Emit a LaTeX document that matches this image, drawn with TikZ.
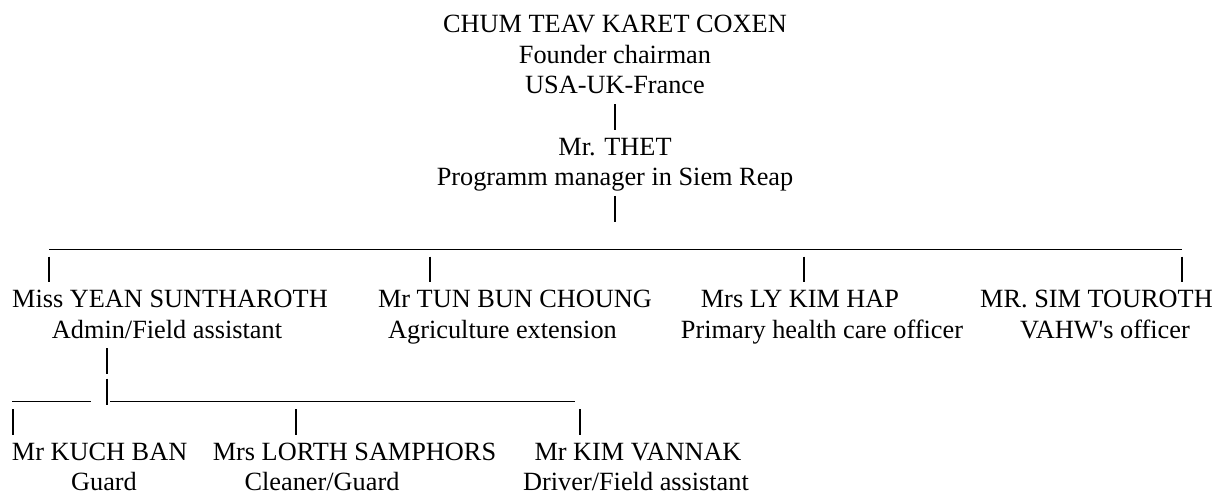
\documentclass[tikz,border=0pt]{standalone}
\usepackage{fontspec}
\setmainfont{Liberation Serif}[Ligatures=TeXOff]

\begin{document}
\begin{tikzpicture}[
    x=1pt, y=-1pt,
    font=\fontsize{26.3}{30.5}\selectfont,
    t/.style={
        inner sep=0pt, anchor=base,
        text height=20.5pt, text depth=5.7pt
    },
    bar/.style={
        line width=1.2pt, color=black
    },
    v/.style={
        bar, shorten >=4.5pt
    },
    h/.style={
        line width=1.2pt, color=black
    }
]

    \useasboundingbox (0, 0) rectangle (1224, 495);

    \node [t] (chair)     at ( 615  ,  33  ) {CHUM TEAV KARET COXEN};
    \node [t] (chairrole) at ( 615  ,  63.5) {Founder chairman};
    \node [t] (chairloc)  at ( 615  ,  94  ) {USA-UK-France};
    \node [t] (thet)      at ( 615  , 155  ) {Mr. THET};
    \node [t] (thetrole)  at ( 615  , 185.5) {Programm manager in Siem Reap};

    \node [t] (yean)      at ( 170  , 307.5) {Miss YEAN SUNTHAROTH};
    \node [t] (yeanrole)  at ( 167  , 338  ) {Admin/Field assistant};
    \node [t] (tun)       at ( 515  , 307.5) {Mr TUN BUN CHOUNG};
    \node [t] (tunrole)   at ( 502.5, 338  ) {Agriculture extension};
    \node [t] (ly)        at ( 800  , 307.5) {Mrs LY KIM HAP};
    \node [t] (lyrole)    at ( 822  , 338  ) {Primary health care officer};
    \node [t] (sim)       at (1096.5, 307.5) {MR. SIM TOUROTH};
    \node [t] (simrole)   at (1105  , 338  ) {VAHW's officer};

    \node [t] (kuch)      at (  99.6, 460  ) {Mr KUCH BAN};
    \node [t] (kuchrole)  at ( 104  , 490.5) {Guard};
    \node [t] (lorth)     at ( 354.5, 460  ) {Mrs LORTH SAMPHORS};
    \node [t] (lorthrole) at ( 322  , 490.5) {Cleaner/Guard};
    \node [t] (kim)       at ( 638  , 460  ) {Mr KIM VANNAK};
    \node [t] (kimrole)   at ( 636  , 490.5) {Driver/Field assistant};

    % top line
    \draw (chairloc) -- (thet) [v,shorten <=4.5pt];
    \coordinate (hub) at (615, 221.7);
    \draw (thetrole) -- (hub) [bar,shorten <=4.5pt];

    \coordinate (h1) at (  49, 249.1);
    \coordinate (h2) at (1182, 249.1);
    \draw (h1) -- (h2) [h];

    \coordinate (b1) at (  49, 256.5);
    \coordinate (b2) at ( 430, 256.5);
    \coordinate (b3) at ( 804, 256.5);
    \coordinate (b4) at (1182, 256.5);
    \foreach \n/\p in {1/yean,2/tun,3/ly,4/sim}
        \draw (b\n) -- (b\n |- \p.north) [v];

    % admin branch
    \coordinate (k1) at (107, 374.2);
    \coordinate (k2) at (107, 378.5);
    \coordinate (k3) at (107, 404.7);
    \draw (yeanrole.south -| k1) -- (k1) [bar,shorten <=4.5pt];
    \draw (k2) -- (k3) [bar];

    \coordinate (g1) at ( 12, 401.6);
    \coordinate (g2) at ( 91, 401.6);
    \coordinate (g3) at (110, 401.6);
    \coordinate (g4) at (575, 401.6);
    \draw (g1) -- (g2) [h];
    \draw (g3) -- (g4) [h];

    \coordinate (d1) at ( 13, 409);
    \coordinate (d2) at (296, 409);
    \coordinate (d3) at (580, 409);
    \foreach \n/\p in {1/kuch,2/lorth,3/kim}
        \draw (d\n) -- (d\n |- \p.north) [v];

\end{tikzpicture}
\end{document}
